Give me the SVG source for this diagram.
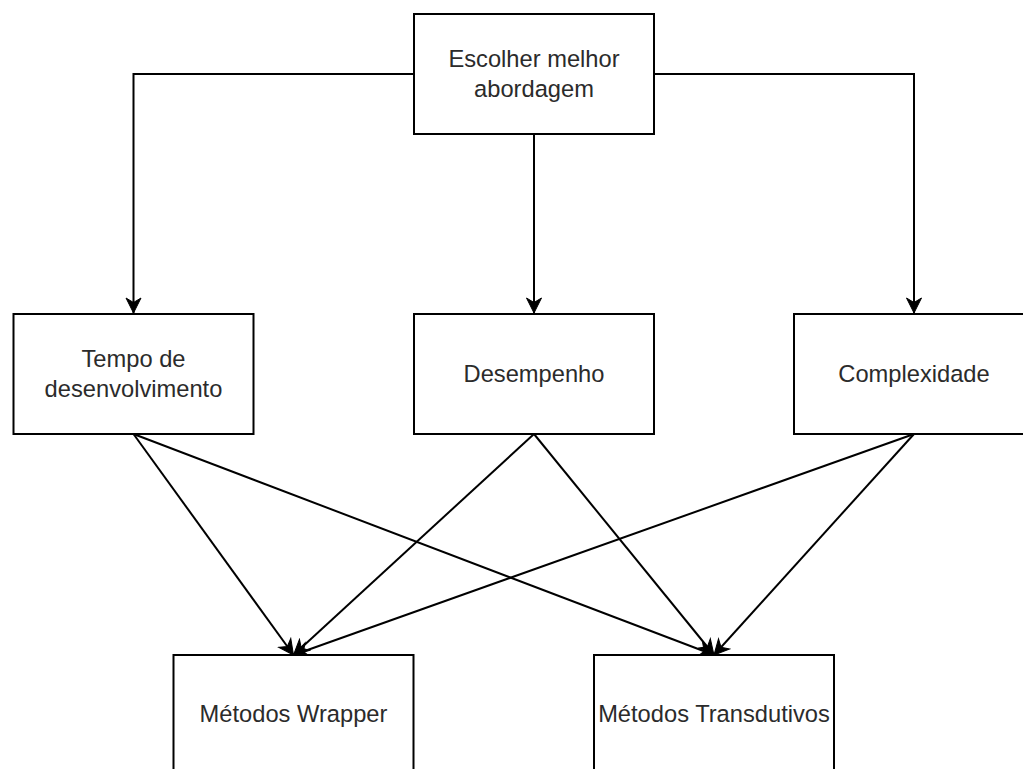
<svg xmlns="http://www.w3.org/2000/svg" width="1023" height="769" viewBox="0 0 1023 769">
  <style>
    .box rect { fill: #ffffff; stroke: #000000; stroke-width: 2; }
    .box text { font-family: "Liberation Sans", Arial, sans-serif; font-size: 23.7px; fill: #2b2b2b; text-anchor: middle; }
    .edge { fill: none; stroke: #000000; stroke-width: 2; marker-end: url(#arrow); }
  </style>
  <defs>
    <marker id="arrow" markerUnits="userSpaceOnUse" markerWidth="18" markerHeight="18" viewBox="-16 -9 18 18" refX="0" refY="0" orient="auto">
      <path d="M0,0 L-15,-7.5 L-10.5,0 L-15,7.5 Z" fill="#000000" stroke="#000000" stroke-width="1" stroke-linejoin="miter"/>
    </marker>
  </defs>

  <rect width="1023" height="769" fill="#ffffff"/>

  <!-- connectors -->
  <g id="connectors">
    <path class="edge" d="M414,74 H133.5 V313"/>
    <path class="edge" d="M534,134 V313"/>
    <path class="edge" d="M654,74 H914 V313"/>

    <path class="edge" d="M133.5,434 L293.5,655"/>
    <path class="edge" d="M133.5,434 L714,655"/>
    <path class="edge" d="M534,434 L293.5,655"/>
    <path class="edge" d="M534,434 L714,655"/>
    <path class="edge" d="M914,434 L293.5,655"/>
    <path class="edge" d="M914,434 L714,655"/>
  </g>

  <!-- nodes -->
  <g id="node-escolher" class="box">
    <rect x="414" y="14" width="240" height="120"/>
    <text x="534" y="67">Escolher melhor</text>
    <text x="534" y="97">abordagem</text>
  </g>

  <g id="node-tempo" class="box">
    <rect x="13.5" y="314" width="240" height="120"/>
    <text x="133.5" y="367">Tempo de</text>
    <text x="133.5" y="397">desenvolvimento</text>
  </g>

  <g id="node-desempenho" class="box">
    <rect x="414" y="314" width="240" height="120"/>
    <text x="534" y="382">Desempenho</text>
  </g>

  <g id="node-complexidade" class="box">
    <rect x="794" y="314" width="240" height="120"/>
    <text x="914" y="382">Complexidade</text>
  </g>

  <g id="node-wrapper" class="box">
    <rect x="173.5" y="655" width="240" height="120"/>
    <text x="293.5" y="722">Métodos Wrapper</text>
  </g>

  <g id="node-transdutivos" class="box">
    <rect x="594" y="655" width="240" height="120"/>
    <text x="714" y="722">Métodos Transdutivos</text>
  </g>
</svg>
